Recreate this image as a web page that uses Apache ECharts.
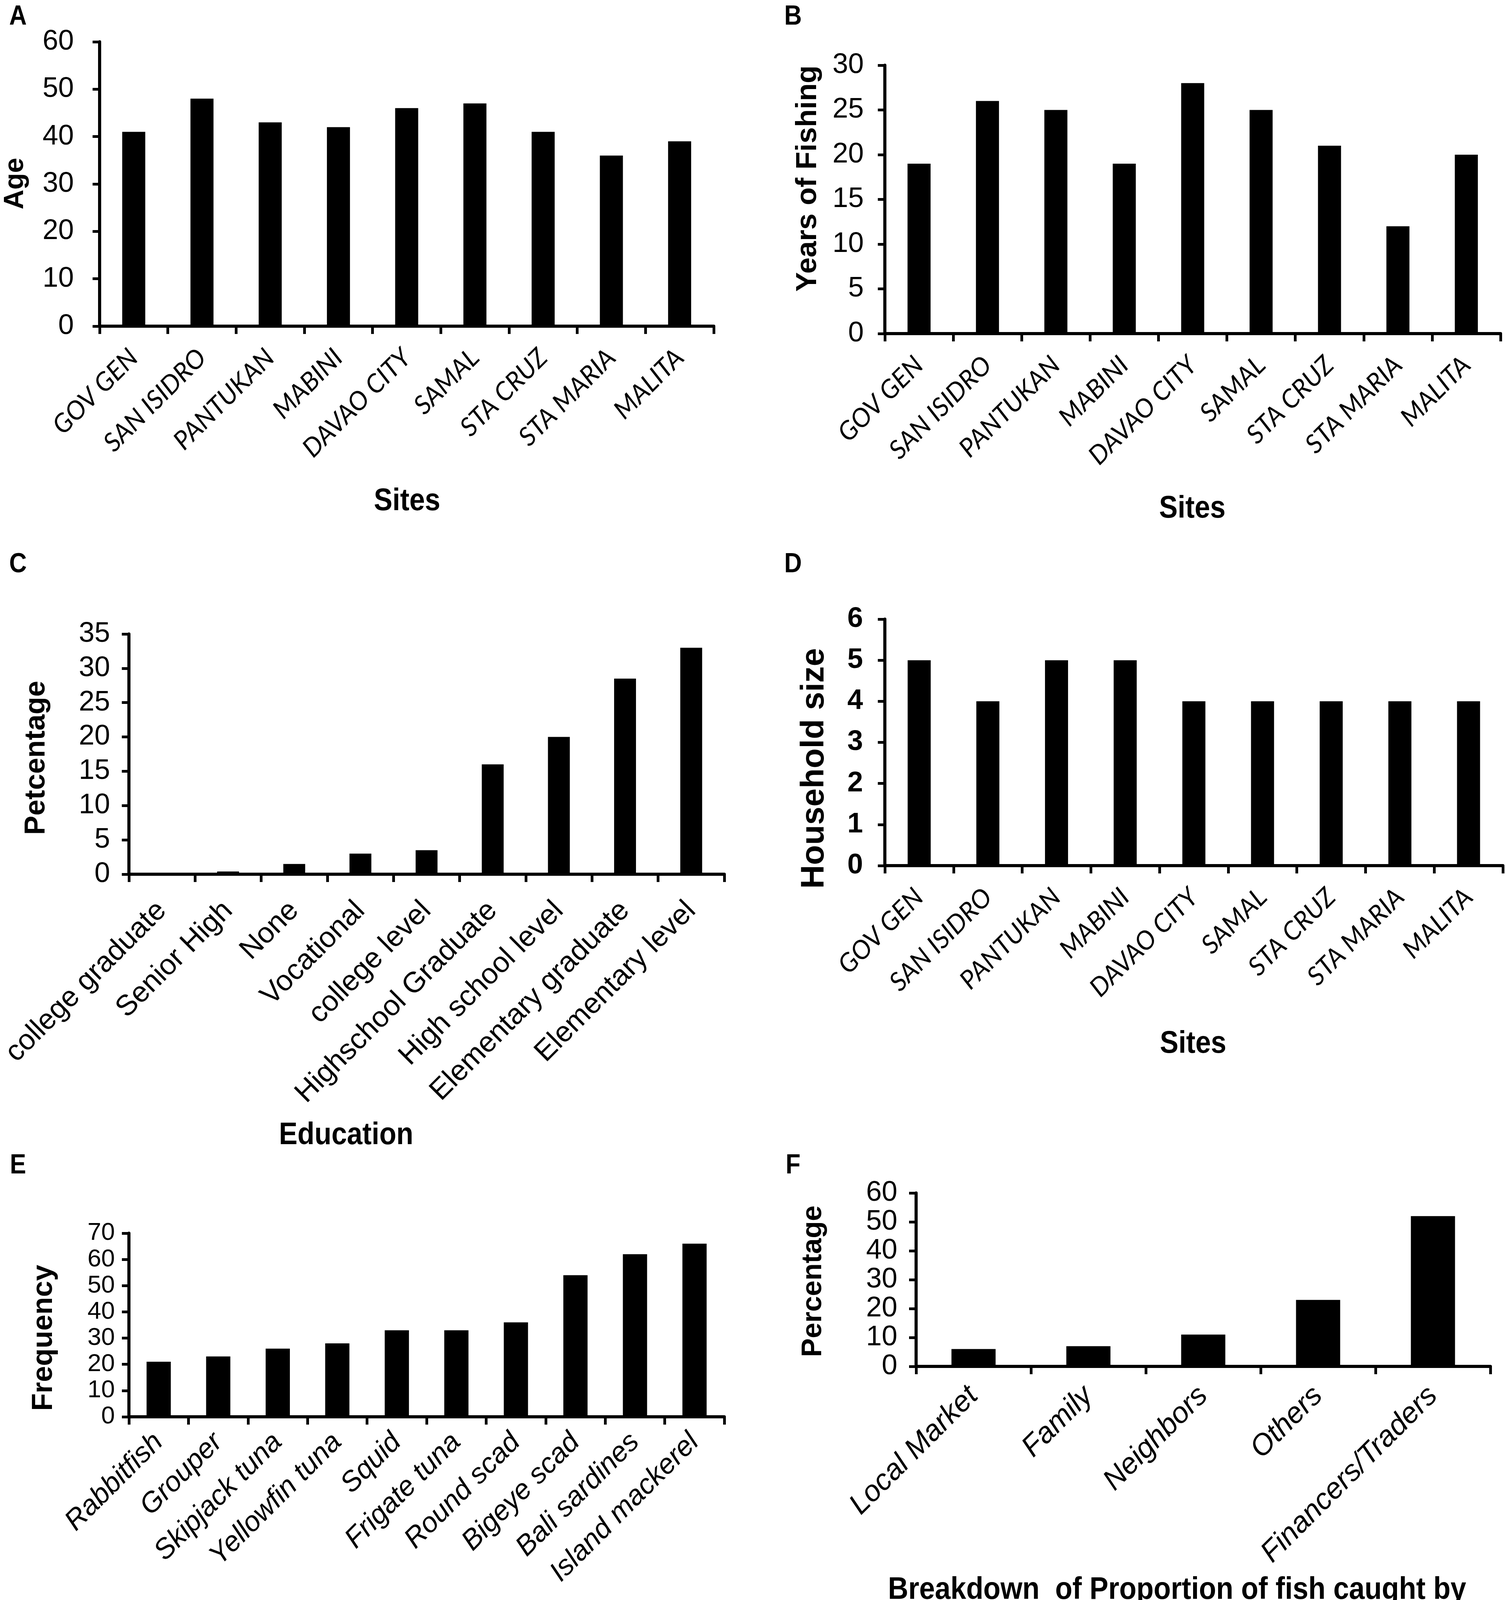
<!DOCTYPE html>
<html><head><meta charset="utf-8">
<script src="https://cdn.jsdelivr.net/npm/echarts@6/dist/echarts.min.js"></script>
<style>html,body{margin:0;padding:0;background:#fff}#c{width:3855px;height:4211px}</style>
</head><body><div id="c"></div>
<script>
const sites = ['GOV GEN','SAN ISIDRO','PANTUKAN','MABINI','DAVAO CITY','SAMAL','STA CRUZ','STA MARIA','MALITA'];
const ageValues = [41,48,43,42,46,47,41,36,39];
const yearsFishing = [19,26,25,19,28,25,21,12,20];
const educationCats = ['college graduate','Senior High','None','Vocational','college level','Highschool Graduate','High school level','Elementary graduate','Elementary level'];
const educationPct = [0,0.4,1.5,3,3.5,16,20,28.5,33];
const householdSize = [5,4,5,5,4,4,4,4,4];
const catchCats = ['Rabbitfish','Grouper','Skipjack tuna','Yellowfin tuna','Squid','Frigate tuna','Round scad','Bigeye scad','Bali sardines','Island mackerel'];
const catchFreq = [21,23,26,28,33,33,36,54,62,66];
const buyerCats = ['Local Market','Family','Neighbors','Others','Financers/Traders'];
const buyerPct = [6,7,11,23,52];

const ARIAL = "'Liberation Sans',Arial,sans-serif";
const CALIBRI = "Lato,'Open Sans',sans-serif";

const panels = [
  {grid:{left:255,top:107,width:1572,height:728}, cats:sites, data:ageValues, max:60, interval:10, barWidth:59,
   xl:{fontSize:66,fontFamily:CALIBRI,fontStyle:'italic',margin:70}, yl:{fontSize:72,fontFamily:ARIAL,margin:66}},
  {grid:{left:2265,top:167,width:1576,height:687}, cats:sites, data:yearsFishing, max:30, interval:5, barWidth:59,
   xl:{fontSize:66,fontFamily:CALIBRI,fontStyle:'italic',margin:70}, yl:{fontSize:72,fontFamily:ARIAL,margin:54}},
  {grid:{left:317,top:1623,width:1537,height:615}, cats:educationCats, data:educationPct, max:35, interval:5, barWidth:56,
   xl:{fontSize:74,fontFamily:ARIAL,fontStyle:'normal',margin:82}, yl:{fontSize:72,fontFamily:ARIAL,margin:48}},
  {grid:{left:2265,top:1585,width:1582,height:631}, cats:sites, data:householdSize, max:6, interval:1, barWidth:59,
   xl:{fontSize:66,fontFamily:CALIBRI,fontStyle:'italic',margin:70}, yl:{fontSize:72,fontFamily:ARIAL,margin:56,fontWeight:'bold'}},
  {grid:{left:330,top:3157,width:1524,height:470}, cats:catchCats, data:catchFreq, max:70, interval:10, barWidth:62,
   xl:{fontSize:72,fontFamily:ARIAL,fontStyle:'italic',margin:54}, yl:{fontSize:63, fontFamily:ARIAL, margin:36}},
  {grid:{left:2345,top:3054,width:1470,height:444}, cats:buyerCats, data:buyerPct, max:60, interval:10, barWidth:113,
   xl:{fontSize:75,fontFamily:ARIAL,fontStyle:'italic',margin:64}, yl:{fontSize:72,fontFamily:ARIAL,margin:48}}
];

const axisLine = {show:true, onZero:false, lineStyle:{color:'#000', width:8}};
const grids=[], xAxes=[], yAxes=[], series=[];
panels.forEach((p,i)=>{
  grids.push(Object.assign({containLabel:false}, p.grid));
  xAxes.push({type:'category', gridIndex:i, data:p.cats, boundaryGap:true,
    axisLine:axisLine, axisTick:{show:true, length:20, alignWithLabel:false, lineStyle:{color:'#000',width:7}},
    axisLabel:Object.assign({rotate:45, interval:0, color:'#000', hideOverlap:false}, p.xl), splitLine:{show:false}});
  yAxes.push({type:'value', gridIndex:i, min:0, max:p.max, interval:p.interval,
    axisLine:axisLine, axisTick:{show:true, length:18, lineStyle:{color:'#000',width:7}},
    axisLabel:Object.assign({color:'#000', showMinLabel:true, showMaxLabel:true, hideOverlap:false}, p.yl), splitLine:{show:false}});
  series.push({type:'bar', xAxisIndex:i, yAxisIndex:i, data:p.data, barWidth:p.barWidth,
    itemStyle:{color:'#000'}, silent:true});
});

function txt(t, x, y, size, opts){
  opts = opts||{};
  return {type:'text', x:x, y:y, rotation:opts.rot||0, scaleX:opts.sx||1, silent:true,
    style:{text:t, fill:'#000', fontSize:size, fontWeight:'bold', fontFamily:ARIAL,
      textAlign:'center', textVerticalAlign:'middle', align:'center', verticalAlign:'middle', lineHeight:opts.lh}};
}
const R = Math.PI/2;
const N = 0.89;
const graphic = [
  txt('A',46,44,70,{sx:N}), txt('B',2030,44,70,{sx:N}), txt('C',46,1446,70,{sx:N}), txt('D',2030,1446,70,{sx:N}), txt('E',46,2985,70,{sx:N}), txt('F',2030,2985,70,{sx:N}),
  txt('Age',40,470,70,{rot:R}),
  txt('Years of Fishing',2068,457,75,{rot:R}),
  txt('Petcentage',94,1940,74,{rot:R}),
  txt('Household size',2085,1967,84,{rot:R}),
  txt('Frequency',113,3425,74,{rot:R}),
  txt('Percentage',2082,3280,72,{rot:R}),
  txt('Sites',1042,1284,80,{sx:N}),
  txt('Sites',3052,1303,80,{sx:N}),
  txt('Education',886,2907,80,{sx:N}),
  txt('Sites',3054,2673,80,{sx:N}),
  txt('Catch Composition per Fishing Trip',1028,4133,81,{sx:0.92}),
  txt('Breakdown  of Proportion of fish caught by\nthe fishers',3013,4112,80,{sx:0.9,lh:83})
];

const chart = echarts.init(document.getElementById('c'), null, {renderer:'canvas', width:3855, height:4211});
chart.setOption({animation:false, backgroundColor:'#fff', grid:grids, xAxis:xAxes, yAxis:yAxes, series:series, graphic:graphic});
</script></body></html>
